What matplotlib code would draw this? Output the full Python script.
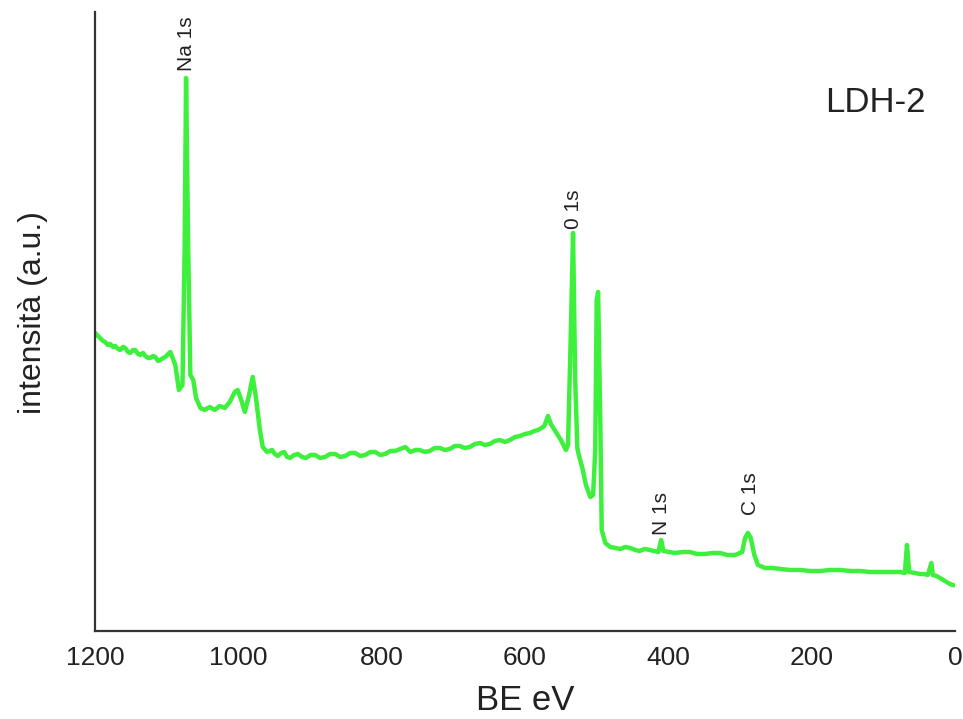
import numpy as np
from matplotlib import pyplot as plt

plt.rcParams['font.family'] = ['Liberation Sans', 'DejaVu Sans']

# XPS survey spectrum (binding energy in eV, intensity in arbitrary units)
be = [1200, 1196, 1193, 1189, 1186, 1182, 1179, 1175, 1172, 1168, 1165, 1161,
      1158, 1154, 1151, 1147, 1144, 1140, 1137, 1133, 1130, 1126, 1123, 1119,
      1116, 1112, 1109, 1105, 1102, 1095, 1088, 1083, 1078, 1075, 1073, 1070,
      1067, 1063, 1059, 1053, 1047, 1040, 1033, 1026, 1019, 1012, 1005, 1001,
      996, 991, 985, 980, 976, 970, 966, 960, 953, 949, 945, 940, 936, 932,
      928, 922, 917, 911, 906, 899, 893, 886, 879, 872, 865, 858, 851, 844,
      837, 830, 823, 816, 809, 802, 795, 788, 781, 774, 767, 760, 753, 747,
      740, 733, 726, 719, 712, 705, 698, 691, 684, 677, 670, 663, 656, 649,
      642, 635, 628, 621, 614, 607, 600, 593, 587, 582, 577, 573, 568, 564,
      557, 550, 543, 540, 536, 533, 530, 527, 525, 520, 515, 509, 505, 502,
      500, 498, 495, 493, 488, 481, 474, 467, 460, 453, 446, 440, 433, 426,
      420, 414, 410, 407, 399, 391, 380, 370, 360, 349, 338, 328, 318, 307,
      297, 293, 289, 285, 280, 275, 265, 254, 244, 230, 216, 202, 188, 174,
      160, 146, 133, 119, 105, 91, 77, 70, 67, 64, 56, 49, 43, 38, 33, 31,
      26, 21, 14, 7, 3]
intensity = [298, 295, 293, 290, 289, 286, 287, 284, 285, 282, 281, 284,
             283, 279, 278, 281, 281, 277, 276, 278, 275, 273, 273, 275,
             274, 270, 271, 273, 274, 279, 266, 241, 246, 381, 553, 381,
             256, 251, 233, 223, 221, 224, 221, 225, 223, 229, 239, 241,
             231, 219, 236, 254, 236, 201, 184, 179, 181, 177, 175, 178, 179, 174,
             173, 176, 177, 174, 173, 176, 176, 173, 174, 177, 177, 174, 175, 178,
             178, 175, 176, 179, 179, 176, 177, 180, 180, 182, 184, 179, 181, 181,
             179, 180, 183, 183, 181, 182, 185, 185, 183, 184, 187, 188, 186, 187,
             190, 191, 189, 191, 194, 195, 197, 198, 200, 201, 203, 205, 215, 207,
             199, 191, 181, 186, 301, 398, 251, 183, 176, 163, 146, 134, 136, 181,
             331, 339, 211, 101, 88, 84, 83, 82, 84, 83, 81, 80, 82, 81,
             80, 79, 91, 80, 79, 78, 79, 79, 77, 77, 78, 78, 76, 76,
             79, 93, 98, 93, 76, 66, 63, 63, 62, 61, 61, 60, 60, 61,
             61, 60, 60, 59, 59, 59, 59, 58, 86, 59, 58, 57, 57, 56, 68, 56,
             55, 53, 50, 47, 46]

# peak assignments: (label, BE position, text base height)
peak_names = ["Na 1s", "0 1s", "N 1s", "C 1s"]
peak_be = [1073, 533, 409, 286]
peak_y = [560, 402, 96, 116]

fig = plt.figure(figsize=(9.63, 7.19), dpi=100)
ax = fig.add_axes([0.0987, 0.1224, 0.893, 0.861])

ax.plot(be, intensity, color="#3cf03c", lw=3.2, solid_joinstyle="round")

for name, x, y in zip(peak_names, peak_be, peak_y):
    ax.text(x, y, name, rotation=90, ha="center", va="bottom",
            fontsize=15, color="#222222")

ax.text(0.907, 0.853, "LDH-2", transform=ax.transAxes, ha="center",
        va="center", fontsize=25, color="#222222")

ax.set_xlim(1200, 0)
ax.set_ylim(0, 619)
ax.set_xticks([1200, 1000, 800, 600, 400, 200, 0])
ax.set_yticks([])
ax.tick_params(axis="x", length=0, pad=11, labelsize=19, labelcolor="#222222")

for side in ("top", "right"):
    ax.spines[side].set_visible(False)
for side in ("left", "bottom"):
    ax.spines[side].set_linewidth(1.6)
    ax.spines[side].set_color("#333333")

ax.set_xlabel("BE eV", fontsize=25, labelpad=10, color="#222222")
ax.set_ylabel("intensità (a.u.)", fontsize=23, color="#222222")
ax.yaxis.set_label_coords(-0.055, 0.515)

fig.savefig("out.png", dpi=100)
